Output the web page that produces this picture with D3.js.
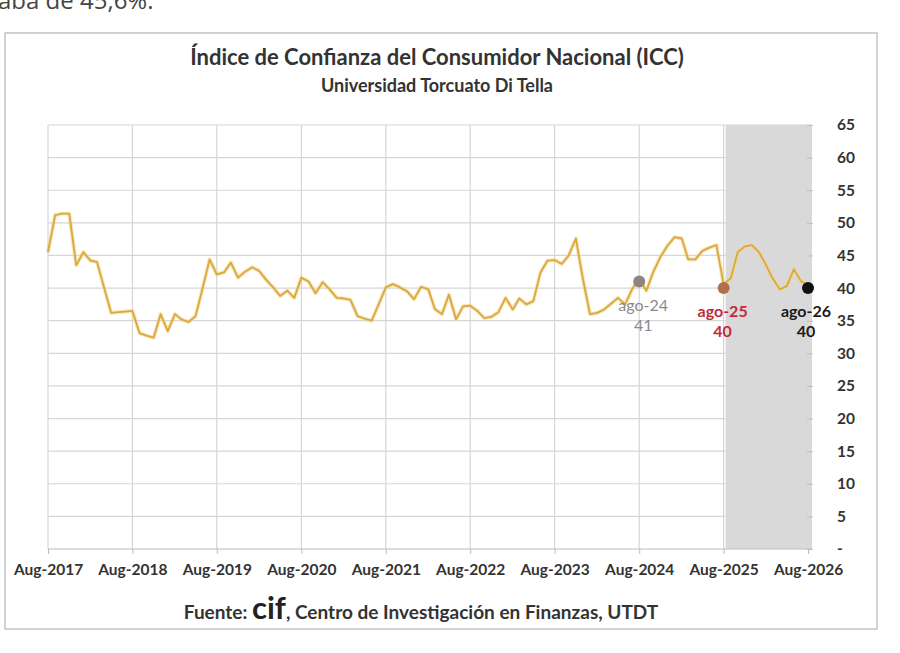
<!DOCTYPE html>
<html>
<head>
<meta charset="utf-8">
<script src="https://d3js.org/d3.v7.min.js"></script>
<style>
  body { margin: 0; background: #fff; }
  svg { display: block; }
</style>
</head>
<body>
<script>
// ICC monthly values, Aug-2017 .. Aug-2026
var startMonth = '2017-08';
var iccValues = [
  45.5, 51.2, 51.4, 51.4, 43.5, 45.5, 44.2, 44.0, 40.0, 36.2, 36.3, 36.4,
  36.5, 33.1, 32.7, 32.4, 36.0, 33.4, 36.0, 35.2, 34.8, 35.7, 40.0, 44.4,
  42.1, 42.4, 43.9, 41.6, 42.5, 43.2, 42.6, 41.3, 40.1, 38.8, 39.6, 38.5,
  41.6, 41.0, 39.2, 40.9, 39.8, 38.5, 38.4, 38.2, 35.7, 35.3, 35.0, 37.5,
  40.1, 40.6, 40.1, 39.5, 38.3, 40.2, 39.8, 36.8, 36.0, 39.0, 35.2, 37.2,
  37.3, 36.5, 35.4, 35.6, 36.3, 38.5, 36.7, 38.4, 37.5, 38.0, 42.4, 44.2,
  44.3, 43.7, 45.0, 47.6, 41.5, 36.0, 36.2, 36.7, 37.6, 38.5, 37.5, 39.8,
  41.4, 39.6, 42.5, 44.8, 46.5, 47.8, 47.6, 44.4, 44.4, 45.7, 46.2, 46.6,
  40.6, 41.5, 45.5, 46.4, 46.6, 45.5, 43.5, 41.5, 39.8, 40.3, 42.9, 41.1,
  40.4
];
var xTickLabels = ['Aug-2017','Aug-2018','Aug-2019','Aug-2020','Aug-2021',
                   'Aug-2022','Aug-2023','Aug-2024','Aug-2025','Aug-2026'];
var yTicks = [0,5,10,15,20,25,30,35,40,45,50,55,60,65];
var markMonths = ['2024-08','2025-08','2026-08'];
var markLabels = ['ago-24','ago-25','ago-26'];
var markValues = [41, 40, 40];
var shadeFrom = '2025-08';

var width = 900, height = 653;
var svg = d3.select('body').append('svg').attr('width', width).attr('height', height);
var parseMonth = d3.timeParse('%Y-%m');
var font = 'Lato, "Open Sans", sans-serif';

// text cut at the top of the page (as in the source picture)
svg.append('text').attr('x', -2).attr('y', 9).attr('font-size', 24)
  .attr('fill', '#444').style('font-family', '"Open Sans", sans-serif')
  .text('aba de 45,6%.');

// chart frame
svg.append('rect').attr('x', 5).attr('y', 33).attr('width', 872).attr('height', 596)
  .attr('fill', '#fff').attr('stroke', '#c4c4c4').attr('stroke-width', 1.5);

var t0 = parseMonth(startMonth);
var data = iccValues.map(function(v, i){ return {date: d3.timeMonth.offset(t0, i), value: v}; });
var tickDates = xTickLabels.map(function(d, i){ return d3.timeYear.offset(t0, i); });

var plotRight = 812;
var x = d3.scaleTime().domain([t0, tickDates[tickDates.length - 1]]).range([48, 808]);
var y = d3.scaleLinear().domain([0, 65]).range([549, 125]);

// horizontal grid
svg.append('g').selectAll('line').data(yTicks.slice(1)).enter().append('line')
  .attr('x1', x(t0)).attr('x2', plotRight)
  .attr('y1', function(d){ return y(d); }).attr('y2', function(d){ return y(d); })
  .attr('stroke', '#d6d6d6').attr('stroke-width', 1.2);
// vertical grid
svg.append('g').selectAll('line').data(tickDates).enter().append('line')
  .attr('x1', function(d){ return x(d); }).attr('x2', function(d){ return x(d); })
  .attr('y1', y(65)).attr('y2', y(0))
  .attr('stroke', '#d6d6d6').attr('stroke-width', 1.2);

// shaded period
svg.append('rect').attr('x', x(parseMonth(shadeFrom)) + 2).attr('y', y(65))
  .attr('width', plotRight - x(parseMonth(shadeFrom)) - 2).attr('height', y(0) - y(65))
  .attr('fill', '#d9d9d9');

// x axis
var xAxis = d3.axisBottom(x).tickValues(tickDates)
  .tickFormat(function(d, i){ return xTickLabels[i]; }).tickSize(5).tickPadding(10);
var gx = svg.append('g').attr('transform', 'translate(0,' + y(0) + ')').call(xAxis);
gx.select('.domain').attr('stroke', '#bdbdbd').attr('d', 'M' + x(t0) + ',0H' + plotRight);
gx.selectAll('.tick line').attr('stroke', '#bdbdbd');
gx.selectAll('.tick text').attr('fill', '#333').attr('font-size', 15.5)
  .attr('font-weight', 'bold').style('font-family', font);

// y axis on the right
var yAxis = d3.axisRight(y).tickValues(yTicks)
  .tickFormat(function(d){ return d === 0 ? '-' : d; }).tickSize(4).tickPadding(24);
var gy = svg.append('g').attr('transform', 'translate(' + (plotRight - 3) + ',0)').call(yAxis);
gy.select('.domain').remove();
gy.selectAll('.tick line').attr('stroke', '#bdbdbd').attr('x1', -2);
gy.selectAll('.tick text').attr('fill', '#333').attr('font-size', 15.5)
  .attr('font-weight', 'bold').style('font-family', font);

// ICC line
var line = d3.line().x(function(d){ return x(d.date); }).y(function(d){ return y(d.value); });
svg.append('path').datum(data).attr('d', line).attr('fill', 'none')
  .attr('stroke', '#f3d38a').attr('stroke-width', 4).attr('stroke-opacity', 0.6)
  .attr('stroke-linejoin', 'round');
svg.append('path').datum(data).attr('d', line).attr('fill', 'none')
  .attr('stroke', '#d9a93f').attr('stroke-width', 1.8).attr('stroke-linejoin', 'round');

// marked points
var dotColors = ['#8d8680', '#b0714c', '#111111'];
var labelColors = ['#8a8a8a', '#c22a3c', '#1a1a1a'];
var labelWeights = ['normal', 'bold', 'bold'];
var labelShift = [4, -1, -2];
markMonths.forEach(function(m, i){
  var cx = x(parseMonth(m)), cy = y(markValues[i]);
  svg.append('circle').attr('cx', cx).attr('cy', cy).attr('r', 6).attr('fill', dotColors[i]);
  svg.append('text').attr('x', cx + labelShift[i]).attr('y', cy + 29).attr('text-anchor', 'middle')
    .attr('font-size', 16).attr('font-weight', labelWeights[i]).attr('fill', labelColors[i])
    .style('font-family', font).text(markLabels[i]);
  svg.append('text').attr('x', cx + labelShift[i]).attr('y', cy + 49).attr('text-anchor', 'middle')
    .attr('font-size', 16).attr('font-weight', labelWeights[i]).attr('fill', labelColors[i])
    .style('font-family', font).text(markValues[i]);
});

// titles
svg.append('text').attr('x', 437).attr('y', 65).attr('text-anchor', 'middle')
  .attr('font-size', 22).attr('font-weight', 'bold').attr('fill', '#333')
  .style('font-family', font).text('Índice de Confianza del Consumidor Nacional (ICC)');
svg.append('text').attr('x', 437).attr('y', 92).attr('text-anchor', 'middle')
  .attr('font-size', 18).attr('font-weight', 'bold').attr('fill', '#333')
  .style('font-family', font).text('Universidad Torcuato Di Tella');

// source
var src = svg.append('text').attr('x', 421).attr('y', 619).attr('text-anchor', 'middle')
  .attr('font-size', 19).attr('font-weight', 'bold').attr('fill', '#333').style('font-family', font);
src.append('tspan').text('Fuente: ');
src.append('tspan').attr('font-size', 31).attr('fill', '#222').text('cif');
src.append('tspan').text(', Centro de Investigación en Finanzas, UTDT');
</script>
</body>
</html>
